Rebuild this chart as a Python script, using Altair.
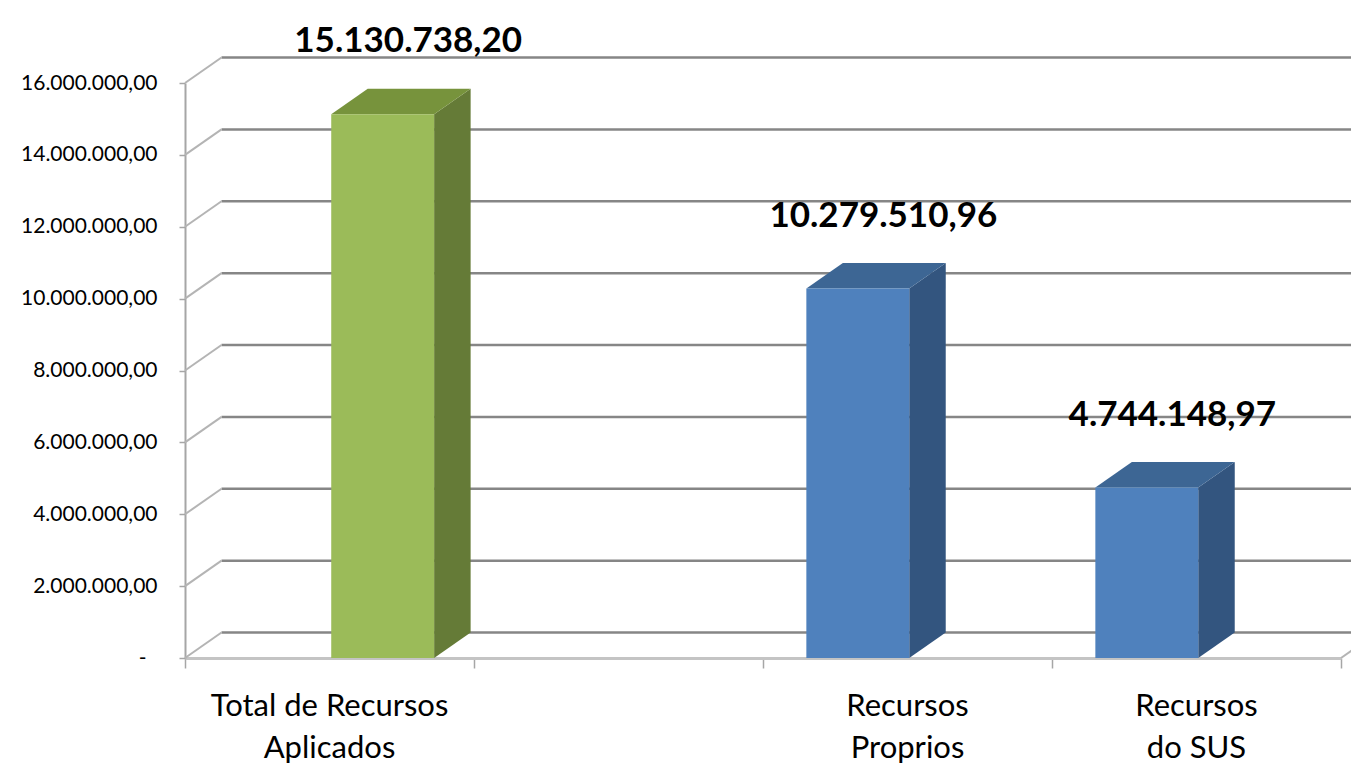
import altair as alt
import pandas as pd

# ---- data ----
categories = ["Total de Recursos\nAplicados", "", "Recursos\nProprios", "Recursos\ndo SUS"]
serie_total = [15130738.20, None, None, None]          # green series
serie_parcelas = [None, None, 10279510.96, 4744148.97]  # blue series
y_ticks = [0, 2e6, 4e6, 6e6, 8e6, 10e6, 12e6, 14e6, 16e6]

# ---- layout / style constants ----
N = len(categories)
W_PX, H_PX = 1156, 575
YMAX = 16e6
DX = 36.5 / (W_PX / N)          # depth, in category units
DY = 25.5 / (H_PX / YMAX)       # depth, in value units
GAP, BW = 0.15, 0.356
FONT = "Lato"

series = [
    # (values, slot, front, top, side)
    (serie_parcelas, 0, "#4F81BD", "#3D6694", "#33557F"),
    (serie_total, 1, "#9BBB59", "#77933C", "#657B37"),
]

def fmt_br(v):
    s = f"{v:,.2f}"
    return s.replace(",", "#").replace(".", ",").replace("#", ".")

front_rows, side_rows, top_rows, lab_rows = [], [], [], []
bid = 0
for vals, slot, cf, ct, cs in series:
    for i, v in enumerate(vals):
        if v is None:
            continue
        x0 = i + GAP + slot * BW
        x1 = x0 + BW
        front_rows.append(dict(bar=bid, x0=x0, x1=x1, lo=0.0, hi=v, col=cf))
        side_rows += [dict(bar=bid, sx=x1, slo=0.0, shi=v, col=cs),
                      dict(bar=bid, sx=x1 + DX, slo=DY, shi=v + DY, col=cs)]
        top_rows += [dict(bar=bid, ty=v, ta=x0, tb=x1, col=ct),
                     dict(bar=bid, ty=v + DY, ta=x0 + DX, tb=x1 + DX, col=ct)]
        lab_rows.append(dict(lx=(x0 + x1) / 2 + DX * 0.7, ly=v, txt=fmt_br(v)))
        bid += 1

grid_rows = [dict(gx=DX, gx2=N + DX, gy=t + DY) for t in y_ticks]
diag_rows = [dict(dx0=0.0, dx1=DX, dy0=t, dy1=t + DY) for t in y_ticks]
diag_rows.append(dict(dx0=float(N), dx1=N + DX, dy0=0.0, dy1=DY))
cat_rows = [dict(cx=i + 0.5, cy=0.0, cat=c) for i, c in enumerate(categories) if c]

xs = alt.Scale(domain=[0, N], nice=False, zero=False)
ys = alt.Scale(domain=[0, YMAX], nice=False)

label_expr = ("datum.value == 0 ? '-' : "
              "replace(replace(replace(format(datum.value, ',.2f'), regexp(',', 'g'), '#'), "
              "regexp('[.]', 'g'), ','), regexp('#', 'g'), '.')")

x_axis = alt.Axis(values=list(range(N + 1)), labels=False, title=None, grid=False,
                  ticks=True, tickSize=10, tickColor="#A6A6A6", tickWidth=1.5,
                  domainColor="#C4C4C4", domainWidth=3)
y_axis = alt.Axis(values=y_ticks, title=None, grid=False, ticks=True, tickSize=6,
                  tickColor="#A6A6A6", tickWidth=1.5, domainColor="#A6A6A6", domainWidth=2,
                  labelFont=FONT, labelFontSize=21, labelColor="#000000",
                  labelPadding={"condition": {"test": "datum.value == 0", "value": 33}, "value": 22},
                  labelExpr=label_expr)

def X(f):
    return alt.X(f, type="quantitative", scale=xs, axis=x_axis)

def Y(f):
    return alt.Y(f, type="quantitative", scale=ys, axis=y_axis)

grid = alt.Chart(pd.DataFrame(grid_rows)).mark_rule(color="#868686", strokeWidth=2.5).encode(
    x=X("gx"), x2="gx2", y=Y("gy"))

diag = alt.Chart(pd.DataFrame(diag_rows)).mark_rule(color="#B4B4B4", strokeWidth=2).encode(
    x=X("dx0"), x2="dx1", y=Y("dy0"), y2="dy1")

side = alt.Chart(pd.DataFrame(side_rows)).mark_area(opacity=1).encode(
    x=X("sx"), y=Y("slo"), y2="shi", detail="bar:N",
    color=alt.Color("col:N", scale=None))

top = alt.Chart(pd.DataFrame(top_rows)).mark_area(orient="horizontal", opacity=1).encode(
    y=Y("ty"), x=X("ta"), x2="tb", detail="bar:N",
    color=alt.Color("col:N", scale=None))

front = alt.Chart(pd.DataFrame(front_rows)).mark_rect().encode(
    x=X("x0"), x2="x1", y=Y("lo"), y2="hi",
    color=alt.Color("col:N", scale=None))

vlabels = alt.Chart(pd.DataFrame(lab_rows)).mark_text(
    font=FONT, fontSize=35, fontWeight="bold", color="#000000",
    baseline="middle", align="center", dy=-73).encode(
    x=X("lx"), y=Y("ly"), text="txt:N")

clabels = alt.Chart(pd.DataFrame(cat_rows)).mark_text(
    font=FONT, fontSize=31, color="#000000", baseline="top", align="center",
    dy=34, lineBreak="\n", lineHeight=42).encode(
    x=X("cx"), y=Y("cy"), text="cat:N")

chart = alt.layer(grid, diag, side, top, front, vlabels, clabels).properties(
    width=W_PX, height=H_PX,
    autosize=alt.AutoSizeParams(type="none"),
    padding={"left": 177, "top": 75, "right": 10, "bottom": 112},
    background="#FFFFFF",
).configure_view(strokeWidth=0)

chart.save("out.html", embed_options={"renderer": "svg", "actions": False})
